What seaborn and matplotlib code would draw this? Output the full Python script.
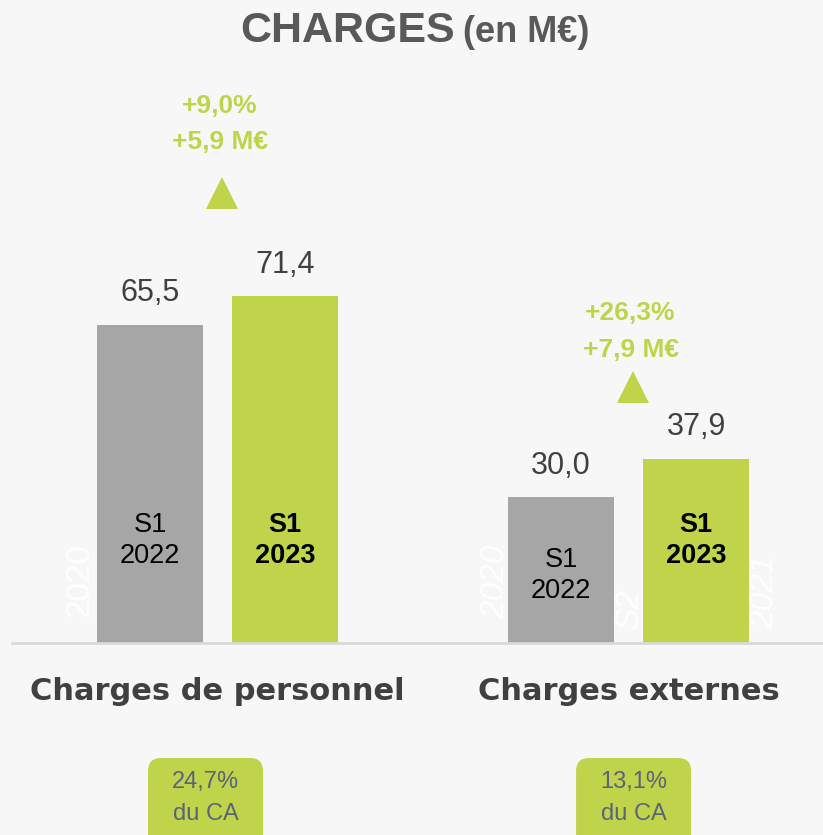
import matplotlib
matplotlib.use('Agg')
import matplotlib.pyplot as plt
from matplotlib.patches import FancyBboxPatch
import seaborn as sns
import pandas as pd

# données (en M€)
categories = ['Charges de personnel', 'Charges externes']
periods = ['S1\n2022', 'S1\n2023']
values_2022 = [65.5, 30.0]
values_2023 = [71.4, 37.9]
growth_pct = ['+9,0%', '+26,3%']
growth_abs = ['+5,9 M€', '+7,9 M€']
share_ca = ['24,7%', '13,1%']

GRAY = '#a6a6a6'
GREEN = '#bfd44b'
BG = '#f7f7f7'
NARROW = ['Liberation Sans Narrow', 'Liberation Sans', 'DejaVu Sans']

df = pd.DataFrame({
    'categorie': categories * 2,
    'periode': [periods[0]] * 2 + [periods[1]] * 2,
    'valeur': values_2022 + values_2023,
})

sns.set_style('white')
plt.rcParams['font.family'] = ['Liberation Sans', 'DejaVu Sans']

W, H = 823, 835
fig = plt.figure(figsize=(W / 100, H / 100), dpi=100, facecolor=BG)

# calque en pixels pour le décor (derrière le graphique)
lay = fig.add_axes([0, 0, 1, 1])
lay.set_xlim(0, W)
lay.set_ylim(0, H)
lay.axis('off')
lay.set_zorder(-1)
lay.patch.set_facecolor(BG)

ax = fig.add_axes([12 / W, 192 / H, 811 / W, 485.5 / H])
ax.patch.set_alpha(0)

sns.barplot(data=df, x='categorie', y='valeur', hue='periode', hue_order=periods,
            palette=[GRAY, GREEN], saturation=1, width=0.657, gap=0.215,
            linewidth=0, legend=False, ax=ax)
ax.set_xlim(-0.5, 1.473)
ax.set_ylim(0, 100)
ax.set(xlabel='', ylabel='', xticks=[], yticks=[])
for s in ['top', 'left', 'right']:
    ax.spines[s].set_visible(False)
ax.spines['bottom'].set_color('#d9d9d9')
ax.spines['bottom'].set_linewidth(2)

# valeurs au-dessus des barres
for cont in ax.containers:
    ax.bar_label(cont, labels=[f'{b.get_height():.1f}'.replace('.', ',') for b in cont],
                 padding=12, fontsize=22, color='#404040', family=NARROW)

# libellés dans les barres
for j, cont in enumerate(ax.containers):
    for b in cont:
        h = b.get_height()
        ax.text(b.get_x() + b.get_width() / 2, min(21.2, h - 16), periods[j],
                ha='center', va='center', fontsize=19.5, color='black',
                fontweight='bold' if j == 1 else 'normal', linespacing=1.25)

# filigranes blancs
for x, y, t, st in [(80, 255, '2020', 'normal'), (496, 253, '2020', 'italic'),
                    (630, 225, 'S2', 'italic'), (765, 243, '2021', 'italic')]:
    lay.text(x, y, t, rotation=90, ha='center', va='center', fontsize=24,
             color='white', style=st, family=NARROW)

# évolution : triangle + texte
arrow_lift = [103, 72]
text_lift = [50, 40]
box_shift = [-12, 5]
to_px = lambda x, y: ax.transData.transform((x, y))
for i in range(len(categories)):
    top = max(values_2022[i], values_2023[i])
    px, py = to_px(i, top)
    ty = py + arrow_lift[i]
    lay.plot(px + 4, ty, marker='^', markersize=23, color=GREEN, markeredgewidth=0)
    lay.annotate(growth_pct[i] + '\n' + growth_abs[i], xy=(px + 2, ty),
                 xytext=(0, text_lift[i]), textcoords='offset points',
                 ha='center', va='center', fontsize=19, fontweight='bold',
                 color=GREEN, family=NARROW, linespacing=1.65)

    # nom de la catégorie
    lay.text(px, 835 - 692, categories[i], ha='center', va='center', fontsize=22,
             fontweight='bold', color='#404040', family=['DejaVu Sans'])

    # pastille % du CA
    bw = 115
    bx = px + box_shift[i]
    lay.add_patch(FancyBboxPatch((bx - bw / 2, -30), bw, 835 - 758 + 30,
                                 boxstyle='round,pad=0,rounding_size=13',
                                 facecolor=GREEN, edgecolor='none'))
    lay.text(bx, 835 - 798, share_ca[i] + '\ndu CA', ha='center', va='center',
             fontsize=17, color='#5b6377', family=NARROW, linespacing=1.6)

# titre
fig.text(455 / W, (H - 42) / H, 'CHARGES', ha='right', va='baseline',
         fontsize=31, fontweight='bold', color='#595959', family=NARROW)
fig.text(463 / W, (H - 42) / H, '(en M€)', ha='left', va='baseline',
         fontsize=26, fontweight='bold', color='#595959', family=NARROW)

fig.savefig('out.png', dpi=100, facecolor=BG)
